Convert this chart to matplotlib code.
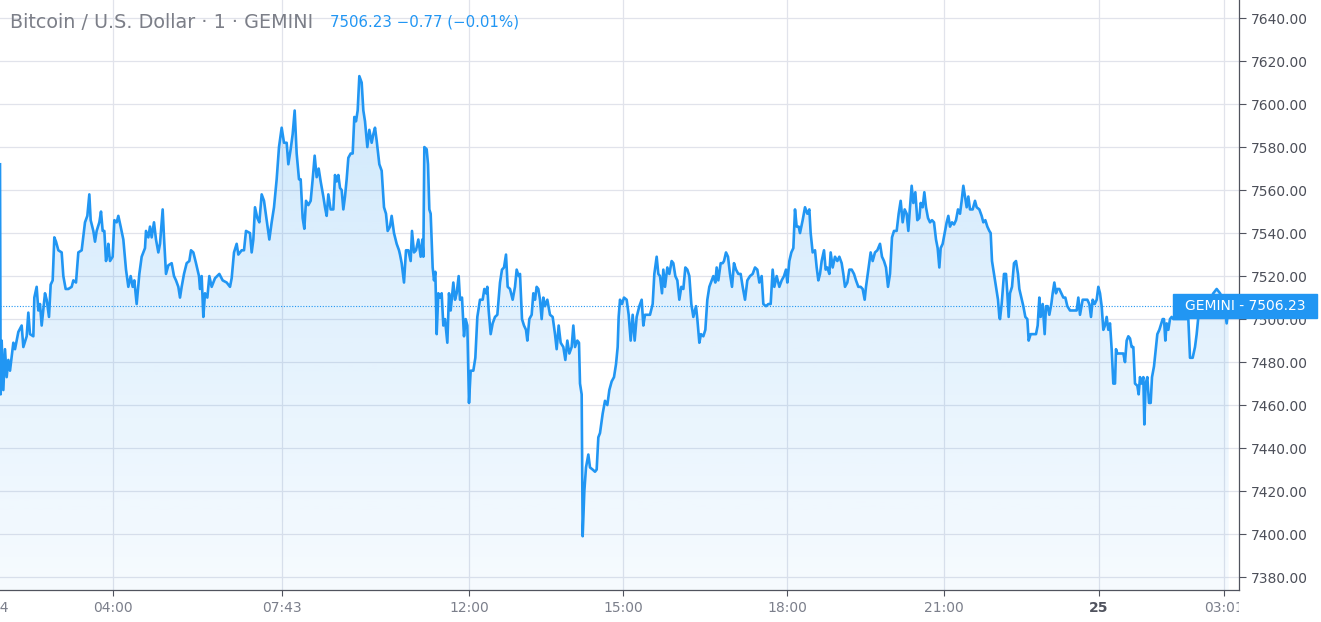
import matplotlib
matplotlib.use("Agg")
import matplotlib.pyplot as plt
import numpy as np
from matplotlib.patches import Rectangle
from matplotlib.transforms import Bbox, TransformedBbox, blended_transform_factory

# bar position (1 unit = 1/3 px of the original chart) and price
bars = [0, 2, 5, 10, 15, 20, 25, 30, 40, 45, 55, 65, 70, 80, 85, 90, 100, 103, 110, 115, 120, 125, 135, 140, 147, 152, 158, 163, 168, 175, 185, 190, 197, 205, 215, 220, 228, 235, 245, 255, 262, 268, 272, 280, 285, 290, 298, 303, 308, 313, 318, 322, 325, 330, 338, 343, 350, 355, 362, 370, 378, 385, 392, 398, 403, 410, 418, 425, 435, 438, 445, 450, 455, 462, 468, 475, 480, 488, 492, 498, 505, 515, 522, 528, 535, 540, 545, 552, 560, 568, 573, 580, 588, 597,
        600, 605, 610, 615, 622, 628, 635, 645, 658, 668, 680, 690, 695, 702, 710, 715, 725, 732, 738, 750, 755, 760, 765, 772, 778, 785, 792, 800, 808, 815, 822, 830, 837, 845, 852, 860, 865, 872, 878, 884, 890, 897, 902, 908, 913, 918, 925, 932, 938, 944, 950, 956, 962, 970, 975, 980, 985, 992, 1000, 1005, 1010, 1015, 1020, 1025, 1030, 1035, 1040, 1045, 1052, 1058, 1063, 1068, 1073, 1078, 1085, 1090, 1095, 1102, 1108, 1115, 1120, 1125, 1130, 1138, 1145, 1152, 1158, 1163, 1170, 1175, 1182, 1190, 1197,
        1200, 1205, 1212, 1218, 1225, 1232, 1236, 1242, 1248, 1255, 1262, 1267, 1270, 1273, 1280, 1284, 1288, 1292, 1298, 1302, 1306, 1310, 1315, 1320, 1325, 1330, 1335, 1342, 1347, 1352, 1360, 1365, 1370, 1376, 1380, 1386, 1392, 1397, 1402, 1407, 1412, 1420, 1426, 1432, 1440, 1448, 1453, 1458, 1462, 1466, 1472, 1478, 1485, 1492, 1500, 1506, 1512, 1518, 1523, 1530, 1538, 1545, 1550, 1556, 1560, 1566, 1572, 1578, 1582, 1588, 1595, 1600, 1605, 1610, 1615, 1620, 1625, 1630, 1635, 1642, 1650, 1658, 1665, 1670, 1676, 1682, 1690, 1696, 1702, 1708, 1715, 1720, 1725, 1732, 1737, 1740, 1745, 1748, 1753, 1758, 1765, 1770, 1778, 1785, 1790, 1795,
        1800, 1808, 1815, 1822, 1828, 1835, 1842, 1848, 1853, 1856, 1860, 1866, 1872, 1880, 1886, 1892, 1898, 1904, 1910, 1918, 1925, 1930, 1935, 1942, 1950, 1958, 1963, 1970, 1975, 1980, 1986, 1990, 1995, 2002, 2008, 2015, 2020, 2026, 2032, 2038, 2044, 2050, 2056, 2062, 2068, 2074, 2080, 2088, 2092, 2098, 2103, 2110, 2116, 2122, 2128, 2135, 2140, 2146, 2150, 2155, 2162, 2168, 2172, 2178, 2184, 2190, 2196, 2202, 2208, 2215, 2222, 2228, 2235, 2242, 2250, 2258, 2265, 2272, 2278, 2285, 2290, 2298, 2305, 2312, 2318, 2323, 2330, 2338, 2345, 2352, 2358, 2362, 2368, 2374, 2380, 2385, 2390, 2396,
        2400, 2408, 2415, 2422, 2428, 2432, 2438, 2445, 2450, 2455, 2460, 2465, 2472, 2477, 2482, 2488, 2492, 2498, 2505, 2512, 2518, 2525, 2530, 2535, 2542, 2548, 2555, 2562, 2568, 2575, 2582, 2588, 2594, 2598, 2605, 2612, 2618, 2625, 2632, 2640, 2646, 2652, 2658, 2664, 2670, 2676, 2682, 2690, 2696, 2702, 2708, 2714, 2720, 2725, 2730, 2735, 2740, 2746, 2752, 2758, 2762, 2768, 2773, 2778, 2784, 2790, 2796, 2802, 2808, 2813, 2818, 2822, 2828, 2834, 2840, 2845, 2850, 2856, 2862, 2868, 2874, 2880, 2885, 2890, 2895, 2900, 2905, 2910, 2918, 2925, 2930, 2938, 2945, 2950, 2956, 2962, 2968, 2972, 2976, 2982, 2988, 2994, 2998,
        3000, 3005, 3012, 3018, 3022, 3026, 3030, 3036, 3042, 3048, 3054, 3058, 3064, 3070, 3076, 3082, 3086, 3092, 3100, 3108, 3113, 3118, 3122, 3128, 3134, 3138, 3143, 3148, 3154, 3158, 3163, 3168, 3172, 3178, 3184, 3190, 3196, 3202, 3210, 3220, 3230, 3235, 3240, 3248, 3255, 3262, 3268, 3273, 3278, 3284, 3290, 3295, 3300, 3305, 3310, 3315, 3320, 3325, 3330, 3335, 3340, 3345, 3348, 3352, 3358, 3364, 3370, 3375, 3380, 3385, 3390, 3395, 3400, 3405, 3412, 3416, 3420, 3425, 3430, 3433, 3437, 3442, 3447, 3452, 3456, 3462, 3468, 3472, 3478, 3484, 3488, 3492, 3496, 3500, 3505, 3510, 3515, 3520, 3530, 3545, 3565, 3570, 3578, 3585, 3590, 3595, 3600, 3620, 3640, 3650, 3660, 3670, 3680, 3686]

price = [7572, 7465, 7490, 7467, 7486, 7473, 7481, 7476, 7489, 7486, 7494, 7497, 7487, 7492, 7503, 7493, 7492, 7510, 7515, 7504, 7507, 7497, 7512, 7509, 7501, 7516, 7518, 7538, 7536, 7532, 7531, 7520, 7514, 7514, 7515, 7518, 7517, 7531, 7532, 7545, 7548, 7558, 7546, 7541, 7536, 7541, 7545, 7550, 7541, 7541, 7527, 7530, 7535, 7527, 7529, 7546, 7545, 7548, 7543, 7537, 7523, 7515, 7520, 7515, 7518, 7507, 7521, 7529, 7533, 7541, 7538, 7543, 7538, 7545, 7537, 7531, 7535, 7551, 7538, 7521, 7525, 7526, 7520, 7518, 7515, 7510, 7515, 7521, 7526, 7527, 7532, 7531, 7526, 7520,
         7514, 7520, 7501, 7512, 7510, 7520, 7515, 7519, 7521, 7518, 7517, 7515, 7519, 7531, 7535, 7530, 7532, 7532, 7541, 7540, 7531, 7537, 7552, 7547, 7545, 7558, 7555, 7546, 7537, 7545, 7552, 7565, 7580, 7589, 7582, 7582, 7572, 7579, 7586, 7597, 7577, 7565, 7565, 7547, 7542, 7555, 7553, 7555, 7565, 7576, 7566, 7570, 7564, 7557, 7552, 7548, 7558, 7551, 7551, 7567, 7564, 7567, 7561, 7560, 7551, 7557, 7565, 7575, 7577, 7577, 7594, 7592, 7597, 7613, 7610, 7597, 7592, 7580, 7588, 7582, 7586, 7589, 7583, 7572, 7569, 7552, 7549, 7541, 7543, 7548, 7540, 7535, 7532,
         7530, 7526, 7517, 7532, 7532, 7527, 7541, 7531, 7532, 7537, 7529, 7537, 7529, 7580, 7579, 7572, 7551, 7549, 7524, 7518, 7522, 7493, 7512, 7510, 7512, 7497, 7500, 7489, 7512, 7504, 7517, 7509, 7512, 7520, 7509, 7510, 7492, 7500, 7497, 7461, 7476, 7476, 7482, 7501, 7509, 7509, 7514, 7512, 7515, 7504, 7493, 7498, 7501, 7502, 7517, 7523, 7524, 7530, 7515, 7514, 7509, 7515, 7523, 7520, 7521, 7500, 7497, 7495, 7490, 7500, 7502, 7512, 7509, 7515, 7514, 7509, 7500, 7510, 7506, 7509, 7502, 7501, 7493, 7486, 7497, 7489, 7487, 7481, 7490, 7484, 7487, 7497, 7487, 7490, 7489, 7470, 7465, 7399, 7420, 7431, 7437, 7431, 7430, 7429, 7430, 7445,
         7447, 7456, 7462, 7460, 7467, 7471, 7473, 7479, 7487, 7501, 7509, 7507, 7510, 7509, 7502, 7490, 7502, 7490, 7501, 7506, 7509, 7497, 7502, 7502, 7502, 7507, 7521, 7529, 7521, 7520, 7512, 7523, 7515, 7524, 7521, 7527, 7526, 7520, 7518, 7509, 7515, 7514, 7524, 7523, 7520, 7507, 7501, 7506, 7500, 7489, 7493, 7492, 7495, 7509, 7515, 7518, 7520, 7517, 7524, 7518, 7526, 7526, 7527, 7531, 7529, 7521, 7515, 7526, 7523, 7521, 7521, 7515, 7509, 7518, 7520, 7521, 7524, 7523, 7517, 7520, 7507, 7506, 7507, 7507, 7523, 7515, 7520, 7515, 7518, 7520, 7523, 7517, 7527, 7531, 7533, 7551, 7543, 7543,
         7540, 7546, 7552, 7549, 7551, 7540, 7531, 7532, 7524, 7518, 7521, 7527, 7532, 7523, 7524, 7521, 7531, 7524, 7529, 7527, 7529, 7526, 7521, 7515, 7517, 7523, 7523, 7521, 7518, 7515, 7515, 7514, 7509, 7515, 7523, 7531, 7527, 7531, 7532, 7535, 7529, 7527, 7524, 7515, 7521, 7538, 7541, 7541, 7549, 7555, 7545, 7551, 7549, 7541, 7552, 7562, 7554, 7559, 7546, 7547, 7554, 7552, 7559, 7552, 7547, 7545, 7546, 7545, 7537, 7533, 7524, 7533, 7535, 7540, 7545, 7548, 7543, 7545, 7544, 7546, 7551, 7549, 7555, 7562, 7557, 7552, 7557, 7551, 7551, 7555, 7552, 7551, 7548, 7545, 7546, 7543, 7541, 7540, 7527, 7521, 7515, 7509, 7501,
         7500, 7507, 7521, 7521, 7512, 7501, 7512, 7515, 7526, 7527, 7521, 7514, 7510, 7506, 7501, 7500, 7490, 7493, 7493, 7493, 7497, 7510, 7501, 7507, 7493, 7506, 7506, 7502, 7507, 7512, 7517, 7512, 7514, 7514, 7512, 7510, 7510, 7506, 7504, 7504, 7504, 7510, 7502, 7509, 7509, 7509, 7507, 7501, 7509, 7507, 7509, 7515, 7512, 7506, 7495, 7497, 7501, 7495, 7498, 7486, 7470, 7470, 7486, 7484, 7484, 7484, 7484, 7480, 7490, 7492, 7491, 7487, 7487, 7470, 7469, 7465, 7473, 7470, 7473, 7451, 7470, 7473, 7461, 7461, 7473, 7478, 7487, 7493, 7495, 7498, 7500, 7500, 7490, 7498, 7495, 7500, 7501, 7500, 7500, 7500, 7500, 7482, 7482, 7487, 7493, 7501, 7502, 7506, 7512, 7514, 7512, 7509, 7498, 7506.23]

tick_bars = [0, 339, 846, 1407, 1869, 2361, 2832, 3297, 3672]
tick_labels = ["24", "04:00", "07:43", "12:00", "15:00", "18:00", "21:00", "25", "03:01"]
y_ticks = [7380, 7400, 7420, 7440, 7460, 7480, 7500, 7520, 7540, 7560, 7580, 7600, 7620, 7640]

last_price = 7506.23
change = -0.77
change_pct = -0.01

blue = "#2196f3"
W, H = 1321, 622

fig = plt.figure(figsize=(W / 100, H / 100), dpi=100)
ax = fig.add_axes([0, 32 / H, 1239 / W, 1 - 32 / H])

x0, x1 = 0, 3717
y0, y1 = 7374, 7648.4
ax.set_xlim(x0, x1)
ax.set_ylim(y0, y1)

# gradient area under the line
poly = ax.fill_between(bars, price, y0, color="none", lw=0)
grad = np.zeros((256, 1, 4))
grad[..., 0], grad[..., 1], grad[..., 2] = 33 / 255, 150 / 255, 243 / 255
grad[:, 0, 3] = np.linspace(0.24, 0.04, 256)
im = ax.imshow(grad, extent=[x0, x1, y0, y1], aspect="auto", origin="upper", zorder=1)
im.set_clip_path(poly.get_paths()[0], ax.transData)

ax.plot(bars, price, color=blue, lw=1.9, zorder=3, solid_joinstyle="round")
ax.axhline(last_price, color=blue, lw=0.8, ls=(0, (1, 1.5)), zorder=2)

# grid / axes
ax.set_xticks(tick_bars)
ax.set_xticklabels(tick_labels)
ax.set_yticks(y_ticks)
ax.set_yticklabels([f"{v:.2f}" for v in y_ticks])
ax.grid(True, color="#e1e3eb", lw=0.9, zorder=0)
ax.set_axisbelow(True)
for s in ["left", "top"]:
    ax.spines[s].set_visible(False)
for s in ["right", "bottom"]:
    ax.spines[s].set_color("#50535e")
    ax.spines[s].set_linewidth(0.9)
ax.yaxis.tick_right()
ax.tick_params(axis="y", length=5, width=0.8, color="#50535e", labelcolor="#4c4f59", labelsize=10, pad=3.5)
ax.tick_params(axis="x", length=4, width=0.8, color="#50535e", labelcolor="#7b7f8b", labelsize=10, pad=4)
first = ax.xaxis.get_major_ticks()[0]
first.tick1line.set_visible(False)
first.gridline.set_visible(False)
labels = ax.get_xticklabels()
labels[7].set_fontweight("bold")
labels[7].set_color("#50535e")
clip = TransformedBbox(Bbox([[0, 0], [1239 / W, 1]]), fig.transFigure)
for lbl in labels:
    lbl.set_clip_box(clip)
    lbl.set_clip_on(True)

# last price label
tr = blended_transform_factory(ax.transAxes, ax.transData)
box_h = 24 / 2.15
ax.add_patch(Rectangle((1173 / 1239, last_price - box_h / 2), 144 / 1239, box_h,
                       transform=tr, color=blue, clip_on=False, zorder=5))
ax.text(1245 / 1239, last_price, f"GEMINI - {last_price:.2f}", transform=tr,
        color="white", fontsize=10, ha="center", va="center", zorder=6, clip_on=False)

# header
fig.text(10 / W, 1 - 22 / H, "Bitcoin / U.S. Dollar \u00b7 1 \u00b7 GEMINI", color="#7c7f88",
         fontsize=13.8, ha="left", va="center")
fig.text(330 / W, 1 - 22 / H,
         f"{last_price:.2f} \u2212{abs(change):.2f} (\u2212{abs(change_pct):.2f}%)",
         color=blue, fontsize=10.8, ha="left", va="center")

fig.savefig("out.png", dpi=100)
